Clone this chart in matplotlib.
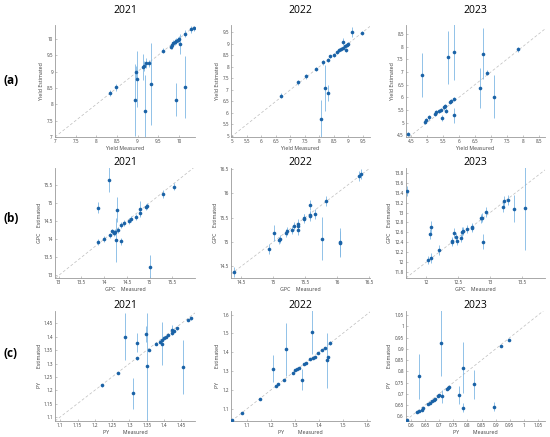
import numpy as np
import matplotlib
matplotlib.use("Agg")
import matplotlib.pyplot as plt

plt.rcParams['font.family'] = ['Open Sans', 'DejaVu Sans']

''' Data read off the figure: measured (x), estimated (y), error (e) '''
# (a) Yield
yld21_x = [8.33, 8.49, 8.94, 8.96, 8.98, 9.13, 9.15, 9.17, 9.20, 9.29, 9.33, 9.62, 9.80, 9.84,
           9.87, 9.90, 9.94, 9.97, 10.00, 10.03, 9.94, 10.15, 10.15, 10.29, 10.37]
yld21_y = [8.34, 8.52, 8.13, 8.98, 8.78, 9.15, 9.17, 7.80, 9.25, 9.25, 8.61, 9.64, 9.76, 9.80,
           9.86, 9.90, 9.93, 9.97, 10.00, 9.84, 8.14, 8.53, 10.16, 10.29, 10.32]
yld21_e = [0.10, 0.10, 1.10, 0.20, 0.85, 0.40, 0.15, 1.10, 0.15, 0.10, 1.25, 0.08, 0.08, 0.10,
           0.10, 0.10, 0.10, 0.10, 0.10, 0.30, 0.50, 0.95, 0.10, 0.10, 0.08]

yld22_x = [6.68, 7.27, 7.52, 7.87, 8.05, 8.14, 8.18, 8.28, 8.29, 8.37, 8.51, 8.62, 8.69, 8.76,
           8.81, 8.83, 8.88, 8.92, 8.95, 9.00, 9.12, 9.46]
yld22_y = [6.74, 7.32, 7.58, 7.90, 5.75, 8.18, 7.08, 6.86, 8.29, 8.44, 8.51, 8.63, 8.73, 8.76,
           9.09, 8.83, 8.89, 8.73, 8.95, 9.00, 9.50, 9.46]
yld22_e = [0.10, 0.10, 0.10, 0.10, 0.80, 0.12, 1.00, 0.35, 0.08, 0.08, 0.08, 0.08, 0.08, 0.08,
           0.15, 0.08, 0.08, 0.10, 0.08, 0.08, 0.20, 0.10]

yld23_x = [4.39, 4.84, 4.93, 4.95, 5.05, 5.24, 5.29, 5.37, 5.42, 5.47, 5.53, 5.56, 5.60, 5.65,
           5.71, 5.75, 5.83, 5.83, 5.83, 6.66, 6.76, 6.89, 7.09, 7.84]
yld23_y = [4.56, 6.88, 5.02, 5.11, 5.21, 5.34, 5.43, 5.47, 5.50, 5.18, 5.60, 5.67, 5.47, 7.58,
           5.82, 5.86, 7.79, 5.28, 5.93, 6.36, 7.72, 6.97, 6.03, 7.90]
yld23_e = [0.08, 0.85, 0.08, 0.08, 0.10, 0.10, 0.08, 0.08, 0.08, 0.10, 0.10, 0.08, 0.10, 1.05,
           0.08, 0.08, 1.10, 0.30, 0.08, 0.80, 1.00, 0.10, 0.85, 0.10]

# (b) GPC
gpc21_x = [13.86, 13.86, 14.00, 14.11, 14.12, 14.18, 14.22, 14.24, 14.27, 14.29, 14.31, 14.37,
           14.38, 14.44, 14.54, 14.59, 14.69, 14.79, 14.79, 14.91, 14.94, 15.00, 15.30, 15.54]
gpc21_y = [14.86, 13.91, 14.01, 15.64, 14.10, 14.21, 14.17, 14.19, 13.98, 14.81, 14.26, 13.94,
           14.38, 14.44, 14.49, 14.56, 14.60, 14.84, 14.72, 14.88, 14.92, 13.23, 15.24, 15.44]
gpc21_e = [0.15, 0.08, 0.08, 0.35, 0.08, 0.08, 0.08, 0.08, 0.60, 0.35, 0.08, 0.10,
           0.08, 0.08, 0.08, 0.08, 0.08, 0.20, 0.10, 0.08, 0.08, 0.33, 0.10, 0.10]

gpc22_x = [14.38, 14.93, 15.02, 15.09, 15.11, 15.20, 15.22, 15.30, 15.32, 15.39, 15.39, 15.39,
           15.48, 15.48, 15.58, 15.58, 15.58, 15.66, 15.76, 15.83, 16.04, 16.04, 16.35, 16.37]
gpc22_y = [14.38, 14.85, 15.18, 15.03, 15.06, 15.18, 15.22, 15.24, 15.32, 15.24, 15.37, 15.32,
           15.48, 15.50, 15.54, 15.76, 15.56, 15.58, 15.07, 15.84, 14.99, 14.97, 16.36, 16.40]
gpc22_e = [0.10, 0.10, 0.17, 0.08, 0.08, 0.08, 0.08, 0.08, 0.08, 0.10, 0.10, 0.08,
           0.10, 0.08, 0.10, 0.10, 0.08, 0.10, 0.45, 0.10, 0.30, 0.25, 0.10, 0.10]

gpc23_x = [11.69, 12.03, 12.05, 12.08, 12.08, 12.20, 12.41, 12.41, 12.43, 12.47, 12.48, 12.55,
           12.56, 12.57, 12.63, 12.72, 12.72, 12.86, 12.88, 12.89, 12.93, 13.20, 13.22, 13.28,
           13.37, 13.55]
gpc23_y = [13.43, 12.05, 12.56, 12.09, 12.71, 12.25, 12.41, 12.43, 12.58, 12.51, 12.43, 12.49,
           12.61, 12.63, 12.67, 12.71, 12.68, 12.88, 12.90, 12.41, 13.01, 13.11, 13.23, 13.25,
           13.08, 13.09]
gpc23_e = [0.10, 0.08, 0.10, 0.10, 0.12, 0.10, 0.08, 0.08, 0.10, 0.08, 0.08, 0.08,
           0.10, 0.08, 0.08, 0.08, 0.08, 0.10, 0.10, 0.15, 0.10, 0.10, 0.10, 0.10,
           0.28, 0.84]

# (c) PY
py21_x = [1.221, 1.267, 1.286, 1.311, 1.321, 1.323, 1.348, 1.351, 1.356, 1.378, 1.388, 1.393,
          1.395, 1.400, 1.405, 1.412, 1.422, 1.424, 1.429, 1.437, 1.455, 1.470, 1.477]
py21_y = [1.219, 1.265, 1.400, 1.188, 1.378, 1.320, 1.409, 1.289, 1.351, 1.374, 1.382, 1.388,
          1.374, 1.395, 1.400, 1.407, 1.416, 1.425, 1.423, 1.432, 1.287, 1.463, 1.469]
py21_e = [0.005, 0.005, 0.088, 0.057, 0.035, 0.005, 0.030, 0.200, 0.005, 0.005, 0.005, 0.005,
          0.080, 0.005, 0.005, 0.005, 0.005, 0.020, 0.005, 0.005, 0.100, 0.005, 0.005]

py22_x = [1.037, 1.079, 1.154, 1.206, 1.220, 1.231, 1.256, 1.262, 1.290, 1.301, 1.307, 1.318,
          1.330, 1.338, 1.346, 1.365, 1.372, 1.375, 1.382, 1.397, 1.414, 1.424, 1.435, 1.438,
          1.448]
py22_y = [1.038, 1.077, 1.153, 1.313, 1.220, 1.233, 1.254, 1.416, 1.290, 1.304, 1.309, 1.318,
          1.254, 1.336, 1.345, 1.362, 1.508, 1.370, 1.375, 1.398, 1.414, 1.423, 1.357, 1.375,
          1.449]
py22_e = [0.005, 0.005, 0.005, 0.070, 0.005, 0.005, 0.005, 0.140, 0.005, 0.005, 0.005, 0.005,
          0.055, 0.005, 0.005, 0.005, 0.120, 0.005, 0.005, 0.005, 0.005, 0.005, 0.145, 0.005,
          0.010]

py23_x = [0.586, 0.623, 0.629, 0.630, 0.638, 0.642, 0.662, 0.667, 0.674, 0.680, 0.685, 0.695,
          0.699, 0.707, 0.709, 0.727, 0.731, 0.736, 0.770, 0.784, 0.784, 0.823, 0.893, 0.919,
          0.949]
py23_y = [0.582, 0.619, 0.778, 0.624, 0.630, 0.636, 0.656, 0.661, 0.667, 0.674, 0.679, 0.690,
          0.693, 0.928, 0.689, 0.723, 0.728, 0.731, 0.696, 0.817, 0.639, 0.742, 0.642, 0.912,
          0.941]
py23_e = [0.003, 0.003, 0.100, 0.003, 0.003, 0.003, 0.003, 0.003, 0.003, 0.003, 0.003, 0.003,
          0.003, 0.150, 0.030, 0.003, 0.003, 0.003, 0.040, 0.115, 0.020, 0.065, 0.020, 0.003,
          0.003]

years = ["2021", "2022", "2023"]
row_tags = ["(a)", "(b)", "(c)"]
x_labels = ["Yield Measured", "GPC    Measured", "PY          Measured"]
y_labels = ["Yield Estimated", "GPC    Estimated", "PY          Estimated"]

panels = [
    [(yld21_x, yld21_y, yld21_e), (yld22_x, yld22_y, yld22_e), (yld23_x, yld23_y, yld23_e)],
    [(gpc21_x, gpc21_y, gpc21_e), (gpc22_x, gpc22_y, gpc22_e), (gpc23_x, gpc23_y, gpc23_e)],
    [(py21_x, py21_y, py21_e), (py22_x, py22_y, py22_e), (py23_x, py23_y, py23_e)],
]

# axis limits and ticks for each panel: (xlim, ylim, xticks, yticks)
limits = [
    [((7, 10.4), (7, 10.42), np.arange(7, 10.01, 0.5), np.arange(7, 10.01, 0.5)),
     ((4.95, 9.75), (4.95, 9.8), np.arange(5, 9.51, 0.5), np.arange(5, 9.51, 0.5)),
     ((4.33, 8.7), (4.43, 8.85), np.arange(4.5, 8.51, 0.5), np.arange(4.5, 8.51, 0.5))],
    [((12.92, 16.0), (12.93, 15.96), np.arange(13, 15.51, 0.5), np.arange(13, 15.51, 0.5)),
     ((14.34, 16.52), (14.26, 16.52), np.arange(14.5, 16.51, 0.5), np.arange(14.5, 16.51, 0.5)),
     ((11.68, 13.86), (11.68, 13.9), np.arange(12, 13.51, 0.5), np.arange(11.8, 13.81, 0.2))],
    [((1.085, 1.49), (1.085, 1.497), np.arange(1.1, 1.451, 0.05), np.arange(1.1, 1.451, 0.05)),
     ((1.032, 1.615), (1.034, 1.62), np.arange(1.1, 1.61, 0.1), np.arange(1.1, 1.61, 0.1)),
     ((0.582, 1.075), (0.579, 1.069), np.arange(0.6, 1.051, 0.05), np.arange(0.6, 1.051, 0.05))],
]

lefts = [0.100, 0.420, 0.738]
widths = [0.255, 0.253, 0.253]
bottoms = [0.6865, 0.3638, 0.0366]
heights = [0.256, 0.252, 0.252]
title_pads = [9, 1.5, 1.5]

dot = "#1a62a6"
bar = "#80b8e4"
spine = "#9a9a9a"

fig = plt.figure(figsize=(5.5, 4.37), dpi=100)

for r in range(3):
    for c in range(3):
        ax = fig.add_axes([lefts[c], bottoms[r], widths[c], heights[r]])
        x, y, e = panels[r][c]
        xlim, ylim, xt, yt = limits[r][c]
        ax.axline((xlim[0], xlim[0]), slope=1, color="#bdbdbd", lw=0.5, ls=(0, (4, 3)), zorder=1)
        ax.errorbar(x, y, yerr=e, fmt="o", ms=2.6, mew=0, color=dot, ecolor=bar, elinewidth=0.6,
                    capsize=1.2, capthick=0.45, zorder=3)
        ax.set_xlim(xlim)
        ax.set_ylim(ylim)
        ax.set_xticks(xt)
        ax.set_yticks(yt)
        ax.set_xticklabels(["%g" % round(v, 3) for v in xt])
        ax.set_yticklabels(["%g" % round(v, 3) for v in yt])
        for s in ["top", "right"]:
            ax.spines[s].set_visible(False)
        for s in ["left", "bottom"]:
            ax.spines[s].set_color(spine)
            ax.spines[s].set_linewidth(0.6)
        ax.tick_params(direction="in", length=1.5, width=0.4, color=spine,
                       labelsize=3.3, labelcolor="#404040", pad=1.5)
        ax.set_xlabel(x_labels[r], fontsize=3.8, color="#404040", labelpad=1.5)
        ax.set_ylabel(y_labels[r], fontsize=3.8, color="#404040", labelpad=1.5)
        ax.set_title(years[c], fontsize=7.5, pad=title_pads[r])

row_y = [0.815, 0.5, 0.19]
for r in range(3):
    fig.text(0.02, row_y[r], row_tags[r], fontsize=8.5, fontweight="bold",
             ha="center", va="center")

plt.savefig("out.png", dpi=100)
